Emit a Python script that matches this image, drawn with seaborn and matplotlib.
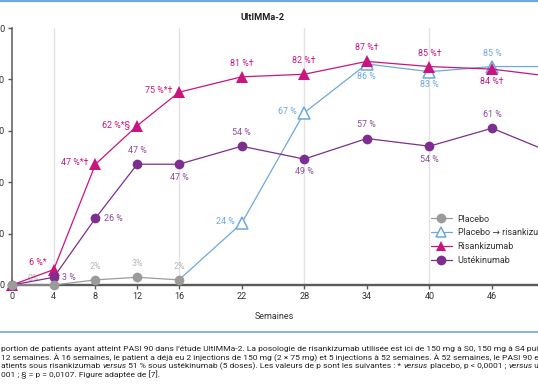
import numpy as np
import pandas as pd
import seaborn as sns
import matplotlib.pyplot as plt
from matplotlib.lines import Line2D

# Data (PASI 90, % of patients).
weeks = [0, 4, 8, 12, 16, 22, 28, 34, 40, 46, 52]
placebo_weeks = [0, 4, 8, 12, 16]
placebo = [0, 0, 2, 3, 2]
switch_weeks = [16, 22, 28, 34, 40, 46, 52]
switch = [2, 24, 67, 86, 83, 85, 85]
risankizumab = [0, 6, 47, 62, 75, 81, 82, 87, 85, 84, 81]
ustekinumab = [0, 3, 26, 47, 47, 54, 49, 57, 54, 61, 51]

placebo_labels = ['0%', '', '2%', '3%', '2%']
switch_labels = ['', '24 %', '67 %', '86 %', '83 %', '85 %', '']
risankizumab_labels = ['', '6 %*', '47 %*†', '62 %*§', '75 %*†', '81 %†',
                       '82 %†', '87 %†', '85 %†', '84 %†', '']
ustekinumab_labels = ['', '3 %', '26 %', '47 %', '47 %', '54 %', '49 %',
                      '57 %', '54 %', '61 %', '']

tick_weeks = [0, 4, 8, 12, 16, 22, 28, 34, 40, 46, 52]
grid_weeks = [4, 16, 28, 40, 52]
y_ticks = [0, 20, 40, 60, 80, 100]

GRAY = '#9b9b9b'
BLUE = '#6fa8dc'
MAGENTA = '#c8157f'
PURPLE = '#7d2e8e'
PURPLE_TXT = '#8b4b9b'
DARK = '#5a5a5a'

sns.set_theme(style='white')
plt.rcParams['font.family'] = ['Roboto', 'DejaVu Sans']

fig = plt.figure(figsize=(5.38, 3.84), dpi=100)
W, H = 538, 384
ax = fig.add_axes([12 / W, 99 / H, 563.5 / W, 257 / H])

for g in grid_weeks:
    ax.axvline(g, color='#e2e2e8', lw=1, zorder=0)

# Series
sns.lineplot(x=switch_weeks, y=switch, ax=ax, color=BLUE, lw=0.9,
             marker='^', markersize=8.5, markerfacecolor='white',
             markeredgecolor=BLUE, markeredgewidth=1.1,
             markevery=list(range(1, len(switch))), clip_on=False, zorder=3)
sns.lineplot(x=weeks, y=risankizumab, ax=ax, color=MAGENTA, lw=0.9,
             marker='^', markersize=8.5, markeredgewidth=0, clip_on=False, zorder=4)
sns.lineplot(x=weeks, y=ustekinumab, ax=ax, color=PURPLE, lw=0.9,
             marker='o', markersize=7, markeredgewidth=0, clip_on=False, zorder=4)
sns.lineplot(x=placebo_weeks, y=placebo, ax=ax, color=GRAY, lw=0.9,
             marker='o', markersize=7, markeredgewidth=0, clip_on=False, zorder=5)


# Data labels
def label(xs, ys, texts, color, place, z=6):
    for x, y, t in zip(xs, ys, texts):
        if not t:
            continue
        pos = place.get(x, 'above')
        if pos == 'above':
            off, ha, va = (0, 6.5), 'center', 'bottom'
        elif pos == 'below':
            off, ha, va = (0, -6), 'center', 'top'
        elif pos == 'left':
            off, ha, va = (-5, 1), 'right', 'center'
        elif pos == 'upleft':
            off, ha, va = (-5, 5), 'right', 'center'
        elif pos == 'upright':
            off, ha, va = (11, 5), 'left', 'center'
        else:
            off, ha, va = (6, 0), 'left', 'center'
        ax.annotate(t, (x, y), xytext=off, textcoords='offset points',
                    ha=ha, va=va, color=color, fontsize=6.4, zorder=z,
                    annotation_clip=False)


label(weeks, risankizumab, risankizumab_labels, MAGENTA,
      {4: 'upleft', 8: 'left', 12: 'left', 16: 'left', 46: 'below'})
label(switch_weeks, switch, switch_labels, BLUE,
      {22: 'left', 28: 'left', 34: 'below', 40: 'below'})
label(weeks, ustekinumab, ustekinumab_labels, PURPLE_TXT,
      {4: 'right', 8: 'right', 16: 'below', 28: 'below', 40: 'below'})
label(placebo_weeks, placebo, placebo_labels, '#b5b5b5',
      {0: 'upright'}, z=2)

# Axes styling
ax.set_xlim(0, 54)
ax.set_ylim(0, 100)
ax.set_xticks(tick_weeks)
ax.set_yticks(y_ticks)
ax.tick_params(axis='both', direction='out', length=3, width=1,
               color=DARK, labelsize=6.5, labelcolor='#333333', pad=2,
               left=True, bottom=True)
for side in ['top', 'right']:
    ax.spines[side].set_visible(False)
ax.spines['left'].set_color(DARK)
ax.spines['left'].set_linewidth(1.1)
ax.spines['bottom'].set_color(DARK)
ax.spines['bottom'].set_linewidth(1.7)
ax.set_xlabel('Semaines', fontsize=6.5, color='#333333')
ax.xaxis.set_label_coords((274 - 12) / 563.5, -0.105)
ax.set_ylabel('')

# Legend
handles = [
    Line2D([], [], color=GRAY, lw=0.9, marker='o', markersize=7, markeredgewidth=0),
    Line2D([], [], color=BLUE, lw=0.9, marker='^', markersize=7,
           markerfacecolor='white', markeredgecolor=BLUE, markeredgewidth=1.1),
    Line2D([], [], color=MAGENTA, lw=0.9, marker='^', markersize=7, markeredgewidth=0),
    Line2D([], [], color=PURPLE, lw=0.9, marker='o', markersize=7, markeredgewidth=0),
]
names = ['Placebo', 'Placebo → risankizumab', 'Risankizumab', 'Ustékinumab']
fig.legend(handles, names, loc='upper left', bbox_to_anchor=(426 / W, 1 - 210 / H),
           frameon=False, fontsize=6.5, handlelength=2.4, handletextpad=0.6,
           labelspacing=0.55, borderpad=0, labelcolor='#333333')

# Title and frame lines
fig.text(263 / W, 1 - 18 / H, 'UltIMMa-2', ha='center', va='center',
         fontsize=6.6, fontweight='bold', color='#222222')
fig.add_artist(Line2D([0, 1], [1 - 1 / H, 1 - 1 / H], color=BLUE, lw=1.6,
                      transform=fig.transFigure))
fig.add_artist(Line2D([0, 1], [1 - 332 / H, 1 - 332 / H], color=BLUE, lw=1.2,
                      transform=fig.transFigure))

# Caption (with italic "versus")
caption = [
    [('portion de patients ayant atteint PASI 90 dans l’étude UltIMMa-2. La posologie '
      'de risankizumab utilisée est ici de 150 mg à S0, 150 mg à S4 puis', 'normal')],
    [('12 semaines. À 16 semaines, le patient a déjà eu 2 injections de 150 mg (2 × 75 mg) '
      'et 5 injections à 52 semaines. À 52 semaines, le PASI 90 est', 'normal')],
    [('atients sous risankizumab ', 'normal'), ('versus', 'italic'),
     (' 51 % sous ustékinumab (5 doses). Les valeurs de p sont les suivantes : * ', 'normal'),
     ('versus', 'italic'), (' placebo, p < 0,0001 ; ', 'normal'), ('versus', 'italic'),
     (' ustékinumab', 'normal')],
    [('001 ; § = p = 0,0107. Figure adaptée de [7].', 'normal')],
]
CAP_SIZE = 6.1
renderer = fig.canvas.get_renderer()


def text_width(s, style):
    # measure with guard characters so that spaces count
    t1 = fig.text(0, 0, 'x' + s + 'x', fontsize=CAP_SIZE, style=style)
    t2 = fig.text(0, 0, 'xx', fontsize=CAP_SIZE, style=style)
    w = t1.get_window_extent(renderer).width - t2.get_window_extent(renderer).width
    t1.remove()
    t2.remove()
    return w


for i, line in enumerate(caption):
    x = 1.0
    y = 349 + i * 8.7
    for seg, style in line:
        fig.text(x / W, 1 - y / H, seg, fontsize=CAP_SIZE, style=style,
                 color='#222222', va='center', ha='left')
        x += text_width(seg, style)

fig.savefig('out.png', dpi=100)
